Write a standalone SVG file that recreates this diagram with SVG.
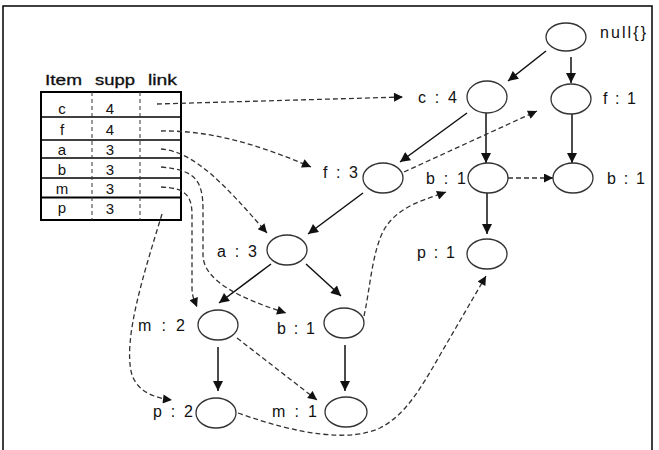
<svg xmlns="http://www.w3.org/2000/svg" width="659" height="450" viewBox="0 0 659 450">
<style>
text{font-family:"Liberation Sans",Arial,sans-serif;font-size:16px;fill:#111}
.n{fill:#fff;stroke:#333;stroke-width:1.3}
.s{fill:none;stroke:#111;stroke-width:1.5}
.d{fill:none;stroke:#333;stroke-width:1.3;stroke-dasharray:5,3}
.cd{stroke:#333;stroke-width:1;stroke-dasharray:4,3}
.tb{font-size:14px;stroke:#111;stroke-width:0.3}
.tc{font-size:15px}
</style>
<defs>
<marker id="a" viewBox="0 0 10 10" refX="10" refY="5" markerWidth="12" markerHeight="10" markerUnits="userSpaceOnUse" orient="auto"><path d="M0,0L10,5L0,10z" fill="#111"/></marker>
<marker id="ad" viewBox="0 0 10 10" refX="10" refY="5" markerWidth="11" markerHeight="9" markerUnits="userSpaceOnUse" orient="auto"><path d="M0,0L10,5L0,10z" fill="#111"/></marker>
</defs>
<path d="M3,450V6H652V450" fill="none" stroke="#000" stroke-width="1.5"/>
<g id="table">
<text x="45" y="85" textLength="37" lengthAdjust="spacingAndGlyphs" class="tb">Item</text>
<text x="95" y="85" textLength="40" lengthAdjust="spacingAndGlyphs" class="tb">supp</text>
<text x="148" y="85" textLength="29" lengthAdjust="spacingAndGlyphs" class="tb">link</text>
<rect x="41" y="92" width="140" height="128" fill="#fff" stroke="#000" stroke-width="2"/>
<g stroke="#000" stroke-width="1.3">
<line x1="41" y1="117" x2="181" y2="117"/>
<line x1="41" y1="140" x2="181" y2="140"/>
<line x1="41" y1="158" x2="181" y2="158"/>
<line x1="41" y1="178" x2="181" y2="178"/>
<line x1="41" y1="197.5" x2="181" y2="197.5" stroke-width="2.2"/>
</g>
<line x1="92" y1="92" x2="92" y2="220" class="cd"/>
<line x1="140" y1="92" x2="140" y2="220" class="cd"/>
<g text-anchor="middle" class="tc">
<text x="62" y="114" class="tc">c</text><text x="110" y="114" class="tc">4</text>
<text x="62" y="135" class="tc">f</text><text x="110" y="135" class="tc">4</text>
<text x="62" y="155" class="tc">a</text><text x="110" y="155" class="tc">3</text>
<text x="62" y="175" class="tc">b</text><text x="110" y="175" class="tc">3</text>
<text x="62" y="194" class="tc">m</text><text x="110" y="194" class="tc">3</text>
<text x="62" y="213" class="tc">p</text><text x="110" y="214" class="tc">3</text>
</g>
</g>
<g id="connectors">
<line x1="546" y1="51" x2="508" y2="81" class="s" marker-end="url(#a)"/>
<line x1="571" y1="57" x2="571" y2="83" class="s" marker-end="url(#a)"/>
<line x1="486" y1="113" x2="486" y2="163" class="s" marker-end="url(#a)"/>
<line x1="572" y1="114" x2="572" y2="163" class="s" marker-end="url(#a)"/>
<line x1="467" y1="113" x2="400" y2="162" class="s" marker-end="url(#a)"/>
<line x1="363" y1="193" x2="308" y2="234" class="s" marker-end="url(#a)"/>
<line x1="271" y1="264" x2="219" y2="303" class="s" marker-end="url(#a)"/>
<line x1="306" y1="264" x2="341" y2="296" class="s" marker-end="url(#a)"/>
<line x1="218" y1="347" x2="218" y2="391" class="s" marker-end="url(#a)"/>
<line x1="345" y1="345" x2="345" y2="391" class="s" marker-end="url(#a)"/>
<line x1="487" y1="193" x2="487" y2="234" class="s" marker-end="url(#a)"/>
<path d="M157,104L403,97" class="d" marker-end="url(#ad)"/>
<path d="M161,131C210,130 260,145 311,167" class="d" marker-end="url(#ad)"/>
<path d="M161,149C195,152 225,185 267,233" class="d" marker-end="url(#ad)"/>
<path d="M161,167C195,170 203,180 203,210L203,255C203,282 245,300 286,313" class="d" marker-end="url(#ad)"/>
<path d="M161,187C185,188 192,195 192,215L192,288C192,297 195,302 197,307" class="d" marker-end="url(#ad)"/>
<path d="M162,214C145,270 122,340 132,375C138,392 155,398 172,400" class="d" marker-end="url(#ad)"/>
<path d="M404,172L537,111" class="d" marker-end="url(#ad)"/>
<path d="M364,316C370,290 372,250 385,228C400,205 425,200 446,192" class="d" marker-end="url(#ad)"/>
<path d="M508,178L553,178" class="d" marker-end="url(#ad)"/>
<path d="M237,338L317,400" class="d" marker-end="url(#ad)"/>
<path d="M238,413C300,435 350,442 380,428C405,415 420,390 440,355L486,276" class="d" marker-end="url(#ad)"/>
</g>
<g id="null"><ellipse cx="566" cy="37" rx="20" ry="14" class="n"/><text x="600" y="38" textLength="46">null{}</text></g>
<g id="c4"><ellipse cx="487" cy="97" rx="20" ry="16" class="n"/><text x="418" y="103" textLength="39">c : 4</text></g>
<g id="f1"><ellipse cx="571" cy="99" rx="20" ry="15" class="n"/><text x="603" y="104" textLength="33">f : 1</text></g>
<g id="b1m"><ellipse cx="488" cy="178" rx="20" ry="15" class="n"/><text x="426" y="184" textLength="40">b : 1</text></g>
<g id="b1r"><ellipse cx="573" cy="178" rx="20" ry="15" class="n"/><text x="607" y="184" textLength="38">b : 1</text></g>
<g id="f3"><ellipse cx="383" cy="178" rx="20" ry="15" class="n"/><text x="323" y="178" textLength="35">f : 3</text></g>
<g id="a3"><ellipse cx="287" cy="250" rx="20" ry="15" class="n"/><text x="217" y="257" textLength="40">a : 3</text></g>
<g id="p1"><ellipse cx="487" cy="254" rx="20" ry="15" class="n"/><text x="417" y="258" textLength="38">p : 1</text></g>
<g id="m2"><ellipse cx="218" cy="325" rx="20" ry="15" class="n"/><text x="138" y="331" textLength="47">m : 2</text></g>
<g id="b1l"><ellipse cx="344" cy="323" rx="20" ry="15" class="n"/><text x="277" y="334" textLength="38">b : 1</text></g>
<g id="p2"><ellipse cx="216" cy="413" rx="20" ry="15" class="n"/><text x="153" y="417" textLength="40">p : 2</text></g>
<g id="m1"><ellipse cx="346" cy="412" rx="21" ry="15" class="n"/><text x="272" y="417" textLength="45">m : 1</text></g>
</svg>
